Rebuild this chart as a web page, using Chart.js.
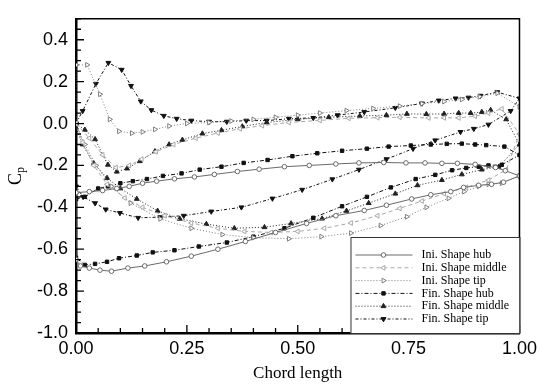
<!DOCTYPE html>
<html>
<head>
<meta charset="utf-8">
<script src="https://cdn.jsdelivr.net/npm/chart.js@4.4.0/dist/chart.umd.min.js"></script>
<style>
html, body { margin: 0; padding: 0; background: #fff; }
#wrap { width: 542px; height: 387px; }
</style>
</head>
<body>
<div id="wrap"><canvas id="cp" width="542" height="387"></canvas></div>
<script>
// tick labels
var xTicks = [0, 0.25, 0.5, 0.75, 1];
var yTicks = [-1.0, -0.8, -0.6, -0.4, -0.2, 0.0, 0.2, 0.4];

var seriesNames = ['Ini. Shape hub', 'Ini. Shape middle', 'Ini. Shape tip',
                   'Fin. Shape hub', 'Fin. Shape middle', 'Fin. Shape tip'];

// each loop: leading edge -> pressure side -> trailing edge -> suction side -> leading edge
var iniHub = [
  [0,-0.33],[0.03,-0.325],[0.06,-0.32],[0.092,-0.31],[0.12,-0.3],[0.15,-0.285],[0.182,-0.275],
  [0.222,-0.264],[0.267,-0.255],[0.312,-0.243],[0.364,-0.229],[0.413,-0.218],[0.47,-0.206],
  [0.526,-0.2],[0.586,-0.193],[0.638,-0.188],[0.694,-0.186],[0.744,-0.188],[0.787,-0.188],
  [0.825,-0.19],[0.86,-0.19],[0.9,-0.195],[0.946,-0.21],[0.968,-0.225],[1.0,-0.25],
  [0.964,-0.28],[0.937,-0.29],[0.908,-0.295],[0.874,-0.305],[0.845,-0.325],[0.8,-0.34],
  [0.757,-0.36],[0.7,-0.39],[0.65,-0.415],[0.586,-0.44],[0.52,-0.477],[0.45,-0.52],
  [0.382,-0.563],[0.32,-0.6],[0.26,-0.633],[0.204,-0.66],[0.155,-0.68],[0.117,-0.69],
  [0.08,-0.705],[0.054,-0.7],[0.03,-0.69],[0.01,-0.68],[0,-0.65],[0,-0.33]
];

var iniMiddle = [
  [0,0.0],[0.03,-0.07],[0.06,-0.15],[0.09,-0.21],[0.12,-0.2],[0.148,-0.17],[0.18,-0.135],
  [0.22,-0.1],[0.27,-0.07],[0.32,-0.045],[0.37,-0.025],[0.42,-0.01],[0.48,0.005],[0.55,0.015],
  [0.615,0.025],[0.68,0.028],[0.73,0.03],[0.795,0.027],[0.83,0.027],[0.863,0.027],[0.9,0.035],
  [0.93,0.05],[0.96,0.07],[1.0,-0.05],
  [0.97,-0.22],[0.93,-0.27],[0.88,-0.305],[0.83,-0.335],[0.78,-0.37],[0.73,-0.405],[0.68,-0.44],
  [0.62,-0.475],[0.56,-0.5],[0.5,-0.515],[0.44,-0.52],[0.38,-0.515],[0.32,-0.5],[0.26,-0.475],
  [0.2,-0.44],[0.15,-0.4],[0.11,-0.355],[0.07,-0.29],[0.04,-0.2],[0.015,-0.09],[0,0.0]
];

var iniTip = [
  [0,0.28],[0.025,0.28],[0.054,0.14],[0.076,0.02],[0.097,-0.037],[0.126,-0.046],[0.15,-0.04],
  [0.178,-0.028],[0.21,-0.012],[0.25,0.0],[0.3,0.005],[0.35,0.012],[0.4,0.02],[0.45,0.03],
  [0.5,0.04],[0.55,0.05],[0.61,0.062],[0.67,0.072],[0.73,0.083],[0.78,0.095],[0.83,0.105],
  [0.87,0.115],[0.91,0.128],[0.95,0.145],[1.0,0.08],
  [1.0,-0.25],[0.96,-0.285],[0.93,-0.29],[0.908,-0.3],[0.875,-0.325],[0.84,-0.357],[0.79,-0.4],
  [0.746,-0.445],[0.687,-0.487],[0.62,-0.523],[0.553,-0.54],[0.48,-0.55],[0.4,-0.545],
  [0.33,-0.53],[0.26,-0.5],[0.19,-0.455],[0.123,-0.38],[0.08,-0.3],[0.045,-0.2],[0.02,-0.1],
  [0,0.0],[0,0.28]
];

var finHub = [
  [0,-0.36],[0.02,-0.35],[0.05,-0.31],[0.072,-0.3],[0.1,-0.285],[0.128,-0.275],[0.16,-0.265],
  [0.196,-0.25],[0.238,-0.238],[0.279,-0.22],[0.328,-0.206],[0.378,-0.188],[0.432,-0.174],
  [0.488,-0.156],[0.544,-0.142],[0.6,-0.13],[0.656,-0.12],[0.705,-0.11],[0.755,-0.105],
  [0.8,-0.1],[0.836,-0.097],[0.87,-0.096],[0.9,-0.1],[0.925,-0.103],[0.966,-0.11],[1.0,-0.15],
  [0.96,-0.197],[0.93,-0.2],[0.908,-0.206],[0.88,-0.212],[0.848,-0.223],[0.81,-0.245],
  [0.766,-0.265],[0.71,-0.305],[0.656,-0.35],[0.6,-0.395],[0.535,-0.45],[0.47,-0.5],[0.4,-0.54],
  [0.34,-0.568],[0.277,-0.587],[0.222,-0.605],[0.173,-0.615],[0.137,-0.63],[0.097,-0.643],
  [0.07,-0.66],[0.043,-0.67],[0.02,-0.675],[0,-0.64],[0,-0.36]
];

var finMiddle = [
  [0,0.0],[0.02,-0.03],[0.043,-0.075],[0.072,-0.197],[0.092,-0.23],[0.115,-0.215],[0.144,-0.18],
  [0.178,-0.133],[0.21,-0.1],[0.24,-0.078],[0.285,-0.048],[0.328,-0.032],[0.375,-0.014],
  [0.43,0.005],[0.5,0.02],[0.57,0.03],[0.64,0.036],[0.7,0.04],[0.746,0.046],[0.79,0.045],
  [0.83,0.046],[0.863,0.05],[0.89,0.05],[0.915,0.055],[0.935,0.064],[0.97,0.02],[1.0,-0.1],
  [0.953,-0.207],[0.915,-0.22],[0.87,-0.243],[0.825,-0.27],[0.77,-0.295],[0.72,-0.335],
  [0.66,-0.38],[0.61,-0.417],[0.555,-0.454],[0.485,-0.477],[0.425,-0.495],[0.357,-0.5],
  [0.294,-0.48],[0.234,-0.455],[0.184,-0.417],[0.137,-0.36],[0.1,-0.31],[0.07,-0.26],
  [0.04,-0.19],[0.015,-0.1],[0,-0.02]
];

var finTip = [
  [0,0.0],[0.015,0.06],[0.045,0.19],[0.073,0.29],[0.103,0.257],[0.124,0.18],[0.146,0.106],
  [0.17,0.064],[0.198,0.037],[0.227,0.023],[0.26,0.014],[0.3,0.009],[0.34,0.009],[0.384,0.014],
  [0.43,0.014],[0.48,0.023],[0.535,0.027],[0.59,0.04],[0.65,0.055],[0.72,0.075],[0.78,0.096],
  [0.818,0.11],[0.856,0.12],[0.885,0.124],[0.912,0.133],[0.95,0.15],[1.0,0.12],
  [0.98,0.06],[0.93,-0.005],[0.897,-0.025],[0.867,-0.04],[0.81,-0.08],[0.76,-0.12],[0.7,-0.17],
  [0.638,-0.22],[0.578,-0.266],[0.51,-0.316],[0.443,-0.358],[0.373,-0.4],[0.305,-0.42],
  [0.243,-0.44],[0.19,-0.447],[0.14,-0.45],[0.099,-0.427],[0.067,-0.41],[0.043,-0.38],
  [0.016,-0.35],[0,-0.3],[0,0.0]
];

function toXY(arr) {
  return arr.map(function (p) { return { x: p[0], y: p[1] }; });
}

function makeSet(i, data, color, dash, style, rot, fill, radius) {
  return {
    label: seriesNames[i],
    data: toXY(data),
    showLine: true,
    borderColor: color,
    borderWidth: 1,
    borderDash: dash,
    pointStyle: style,
    rotation: rot,
    pointRadius: radius,
    pointBorderWidth: 1,
    pointBorderColor: color,
    pointBackgroundColor: fill,
    tension: 0
  };
}

var datasets = [
  makeSet(0, iniHub, '#6a6a6a', [], 'circle', 0, '#fff', 2.3),
  makeSet(1, iniMiddle, '#a8a8a8', [4, 3], 'triangle', -90, '#fff', 2.8),
  makeSet(2, iniTip, '#808080', [1, 2], 'triangle', 90, '#fff', 2.8),
  makeSet(3, finHub, '#111', [4, 2, 1, 2], 'rect', 0, '#111', 2.4),
  makeSet(4, finMiddle, '#222', [1, 2], 'triangle', 0, '#222', 2.8),
  makeSet(5, finTip, '#111', [3, 2, 1, 2], 'triangle', 180, '#111', 2.8)
];

var frame = {
  id: 'frame',
  afterDraw: function (chart) {
    var ctx = chart.ctx;
    var a = chart.chartArea;
    var xs = chart.scales.x, ys = chart.scales.y;
    ctx.save();
    ctx.strokeStyle = '#000';
    ctx.setLineDash([]);
    // top and right edges
    ctx.lineWidth = 1.5;
    ctx.beginPath();
    ctx.moveTo(a.left, a.top); ctx.lineTo(a.right, a.top); ctx.lineTo(a.right, a.bottom);
    ctx.stroke();
    // inward ticks
    ctx.lineWidth = 1.3;
    ctx.beginPath();
    for (var k = 0; k <= 30; k++) {
      var v = -1.0 + k * 0.05;
      var py = ys.getPixelForValue(v);
      var len = (k % 4 === 0) ? 8 : 5;
      ctx.moveTo(a.left, py); ctx.lineTo(a.left + len, py);
    }
    for (var j = 0; j <= 20; j++) {
      var px = xs.getPixelForValue(j * 0.05);
      var l2 = (j % 5 === 0) ? 8 : 5;
      ctx.moveTo(px, a.bottom); ctx.lineTo(px, a.bottom - l2);
    }
    ctx.stroke();

    // y title C_p
    ctx.fillStyle = '#000';
    ctx.translate(16, (a.top + a.bottom) / 2);
    ctx.rotate(-Math.PI / 2);
    ctx.font = '18px "Liberation Serif", serif';
    var wc = ctx.measureText('C').width;
    ctx.font = '12px "Liberation Serif", serif';
    var wp = ctx.measureText('p').width;
    var sx = -(wc + wp) / 2;
    ctx.textBaseline = 'middle';
    ctx.textAlign = 'left';
    ctx.font = '18px "Liberation Serif", serif';
    ctx.fillText('C', sx, 0);
    ctx.font = '12px "Liberation Serif", serif';
    ctx.fillText('p', sx + wc, 5);
    ctx.restore();

    // legend box, lower right inside the plot
    ctx.save();
    var bw = 169, bh = 96;
    var bx = a.right - bw, by = a.bottom - bh;
    ctx.fillStyle = '#fff';
    ctx.fillRect(bx, by, bw, bh);
    ctx.strokeStyle = '#333';
    ctx.lineWidth = 1;
    ctx.strokeRect(bx + 0.5, by + 0.5, bw, bh);
    ctx.font = '12px "Liberation Serif", serif';
    ctx.textBaseline = 'middle';
    ctx.textAlign = 'left';
    chart.data.datasets.forEach(function (ds, i) {
      var ry = by + 18 + i * 12.8;
      ctx.strokeStyle = ds.borderColor;
      ctx.lineWidth = 1;
      ctx.setLineDash(ds.borderDash);
      ctx.beginPath();
      ctx.moveTo(bx + 5, ry); ctx.lineTo(bx + 62, ry);
      ctx.stroke();
      ctx.setLineDash([]);
      ctx.fillStyle = ds.pointBackgroundColor;
      ctx.strokeStyle = ds.pointBorderColor;
      Chart.helpers.drawPoint(ctx, {
        pointStyle: ds.pointStyle, rotation: ds.rotation,
        radius: ds.pointRadius, borderWidth: 1
      }, bx + 33, ry);
      ctx.fillStyle = '#000';
      ctx.fillText(ds.label, bx + 71, ry);
    });
    ctx.restore();
  }
};

new Chart(document.getElementById('cp'), {
  type: 'scatter',
  data: { datasets: datasets },
  options: {
    responsive: false,
    devicePixelRatio: 1,
    animation: false,
    layout: { padding: { left: 0, top: 5, right: 21, bottom: 0 } },
    plugins: { legend: { display: false }, tooltip: { enabled: false } },
    scales: {
      x: {
        type: 'linear', min: 0, max: 1,
        afterFit: function (s) { s.height = 54; },
        afterBuildTicks: function (s) { s.ticks = xTicks.map(function (v) { return { value: v }; }); },
        grid: { display: false, drawTicks: false },
        border: { display: true, color: '#000', width: 2.5 },
        ticks: {
          padding: 5, color: '#000',
          font: { family: '"Liberation Sans", Arial, sans-serif', size: 18 },
          callback: function (v) { return Number(v).toFixed(2); }
        },
        title: {
          display: true, text: 'Chord length', color: '#000',
          font: { family: '"Liberation Serif", serif', size: 17 },
          padding: { top: 0, bottom: 3 }
        }
      },
      y: {
        type: 'linear', min: -1.0, max: 0.5,
        afterFit: function (s) { s.width = 76; },
        afterBuildTicks: function (s) { s.ticks = yTicks.map(function (v) { return { value: v }; }); },
        grid: { display: false, drawTicks: false },
        border: { display: true, color: '#000', width: 2.5 },
        ticks: {
          padding: 8, color: '#000',
          font: { family: '"Liberation Sans", Arial, sans-serif', size: 18 },
          callback: function (v) { return Number(v).toFixed(1); }
        }
      }
    }
  },
  plugins: [frame]
});
</script>
</body>
</html>
